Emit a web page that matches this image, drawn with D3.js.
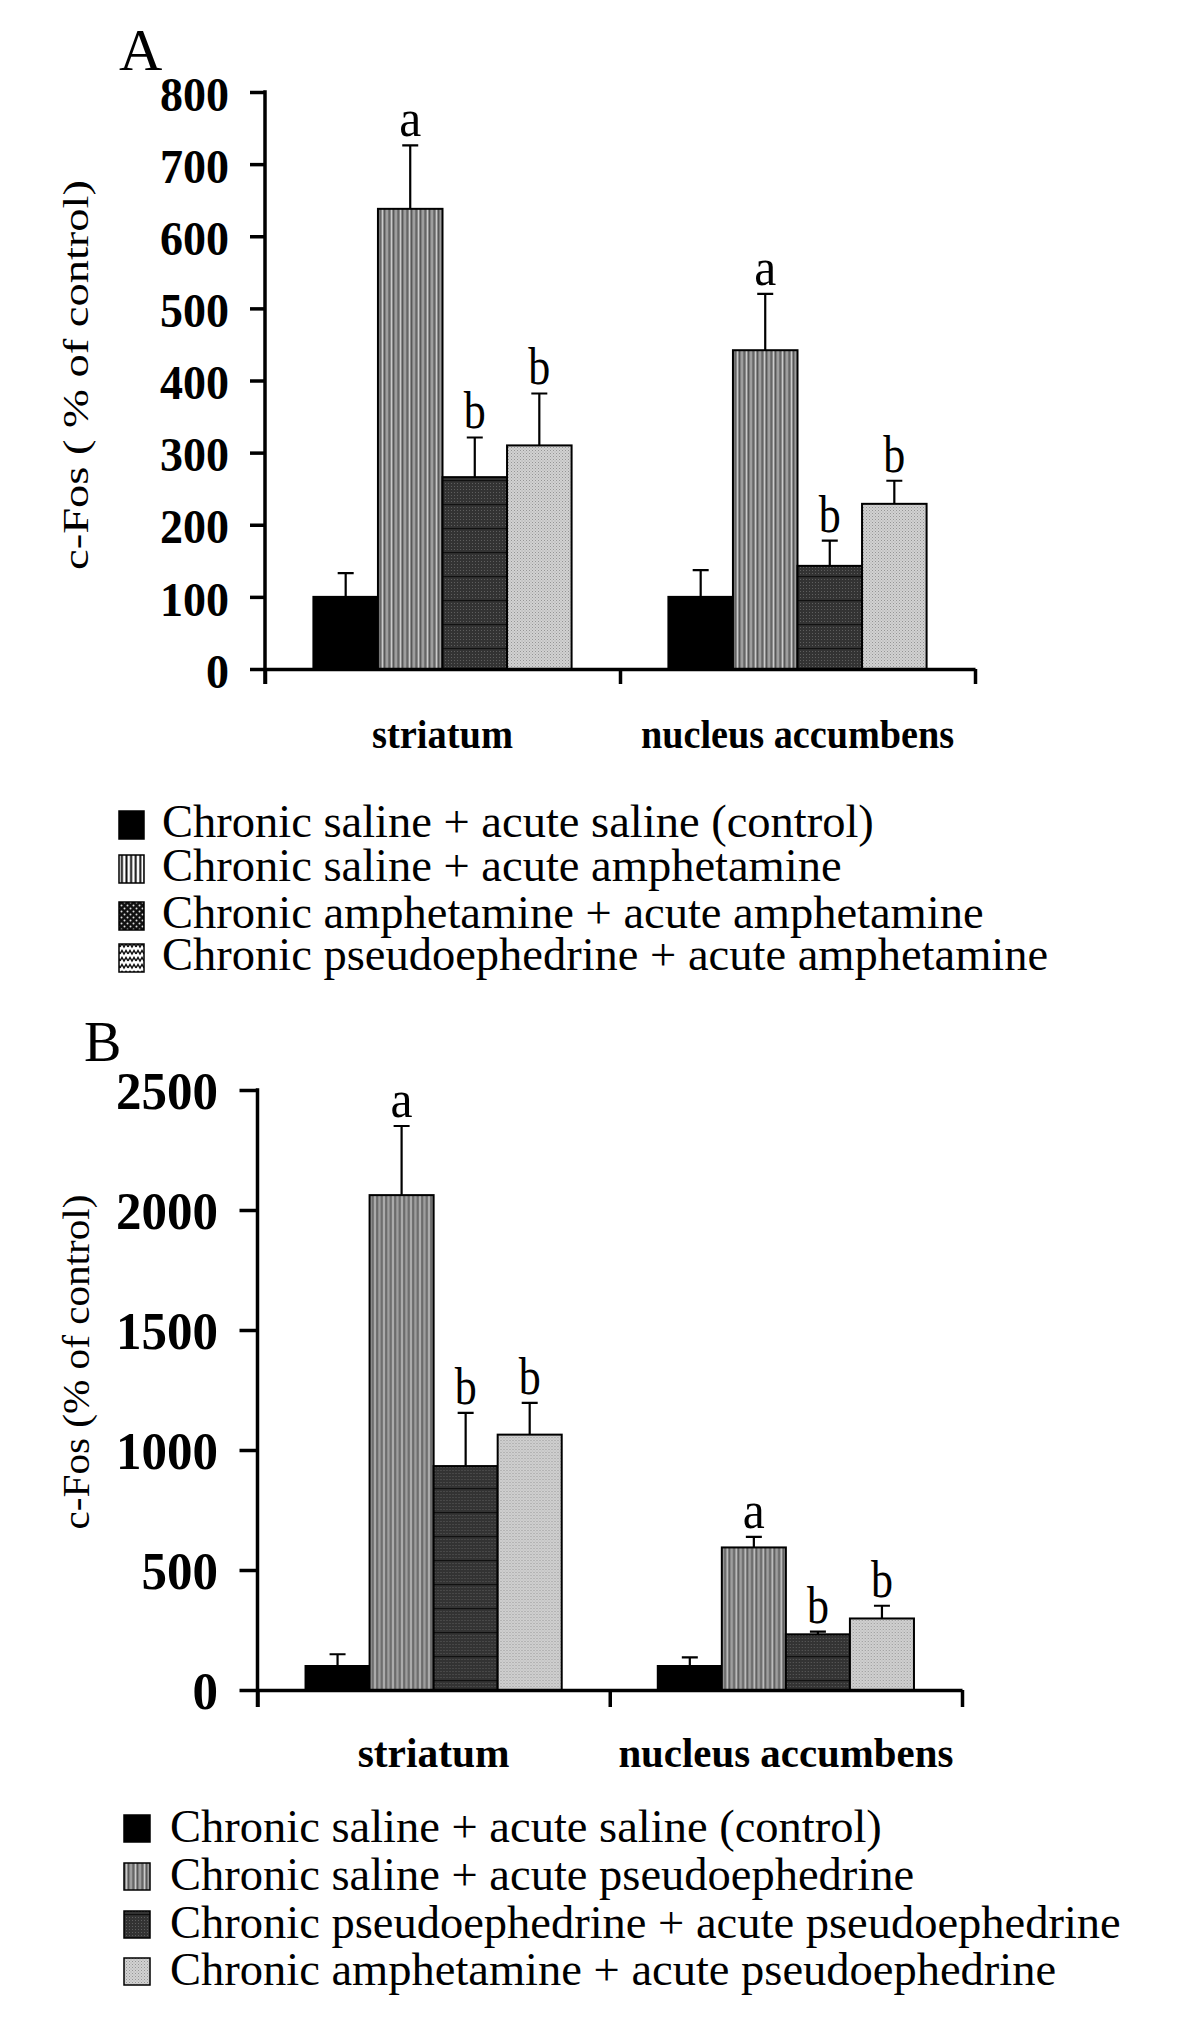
<!DOCTYPE html>
<html>
<head>
<meta charset="utf-8">
<script src="https://cdn.jsdelivr.net/npm/d3@7"></script>
<style>
  body { margin: 0; background: #fff; }
  svg { display: block; }
  text { font-family: "Liberation Serif", "Times New Roman", serif; fill: #000; }
</style>
</head>
<body>
<div id="chart"></div>
<script>
const width = 1200;
const height = 2038;

// data
const regions = ["striatum", "nucleus accumbens"];

const groupsA = [
    "Chronic saline + acute saline (control)",
    "Chronic saline + acute amphetamine",
    "Chronic amphetamine + acute amphetamine",
    "Chronic pseudoephedrine + acute amphetamine"
];
const meanA = [[100, 638, 266, 310], [100, 442, 143, 229]];
const semA = [[33, 88, 55, 72], [37, 78, 35, 32]];
const lettersA = [["", "a", "b", "b"], ["", "a", "b", "b"]];
const ticksA = [0, 100, 200, 300, 400, 500, 600, 700, 800];

const groupsB = [
    "Chronic saline + acute saline (control)",
    "Chronic saline + acute pseudoephedrine",
    "Chronic pseudoephedrine + acute pseudoephedrine",
    "Chronic amphetamine + acute pseudoephedrine"
];
const meanB = [[100, 2062, 933, 1064], [100, 594, 232, 298]];
const semB = [[49, 288, 222, 132], [36, 44, 11, 53]];
const lettersB = [["", "a", "b", "b"], ["", "a", "b", "b"]];
const ticksB = [0, 500, 1000, 1500, 2000, 2500];

const svg = d3.select("#chart")
    .append("svg")
    .attr("width", width)
    .attr("height", height);

svg.append("rect").attr("width", width).attr("height", height).attr("fill", "#fff");

const defs = svg.append("defs");

// bar fills
const pStripe = defs.append("pattern").attr("id", "stripe")
    .attr("patternUnits", "userSpaceOnUse").attr("width", 9).attr("height", 10);
pStripe.append("rect").attr("width", 9).attr("height", 10).attr("fill", "#8a8a8a");
[[0, "#cbcbcb", 1], [2, "#585858", 1.2], [4.5, "#b2b2b2", 1], [6.5, "#626262", 1.4]].forEach(d => {
    pStripe.append("rect").attr("x", d[0]).attr("width", d[2]).attr("height", 10).attr("fill", d[1]);
});

const pDark = defs.append("pattern").attr("id", "darkgrid")
    .attr("patternUnits", "userSpaceOnUse").attr("width", 3).attr("height", 24);
pDark.append("rect").attr("width", 3).attr("height", 24).attr("fill", "#333");
for (let j = 0; j < 24; j += 3) {
    pDark.append("rect").attr("x", 0).attr("y", j).attr("width", 1).attr("height", 1).attr("fill", "#5e5e5e");
}
pDark.append("rect").attr("width", 3).attr("height", 1.2).attr("fill", "#111");

const pLight = defs.append("pattern").attr("id", "lightdot")
    .attr("patternUnits", "userSpaceOnUse").attr("width", 3).attr("height", 3);
pLight.append("rect").attr("width", 3).attr("height", 3).attr("fill", "#d2d2d2");
pLight.append("rect").attr("width", 1).attr("height", 1).attr("fill", "#959595");
pLight.append("rect").attr("x", 1.5).attr("y", 1.5).attr("width", 1).attr("height", 1).attr("fill", "#a6a6a6");

// legend swatches of panel A
const pLegStripe = defs.append("pattern").attr("id", "legstripe")
    .attr("patternUnits", "userSpaceOnUse").attr("width", 4.6).attr("height", 10);
pLegStripe.append("rect").attr("width", 4.6).attr("height", 10).attr("fill", "#fff");
pLegStripe.append("rect").attr("x", 1.3).attr("width", 2).attr("height", 10).attr("fill", "#111");

const pLegDots = defs.append("pattern").attr("id", "legdots")
    .attr("patternUnits", "userSpaceOnUse").attr("width", 6).attr("height", 6);
pLegDots.append("rect").attr("width", 6).attr("height", 6).attr("fill", "#111");
pLegDots.append("circle").attr("cx", 1.5).attr("cy", 1.5).attr("r", 1).attr("fill", "#ddd");
pLegDots.append("circle").attr("cx", 4.5).attr("cy", 4.5).attr("r", 1).attr("fill", "#ddd");

const pLegZig = defs.append("pattern").attr("id", "legzig")
    .attr("patternUnits", "userSpaceOnUse").attr("width", 8).attr("height", 7);
pLegZig.append("rect").attr("width", 8).attr("height", 7).attr("fill", "#fff");
pLegZig.append("path").attr("d", "M0,5 L2,1.5 L4,5 L6,1.5 L8,5")
    .attr("fill", "none").attr("stroke", "#111").attr("stroke-width", 1.5);

const barFills = ["#000", "url(#stripe)", "url(#darkgrid)", "url(#lightdot)"];
const legFillsA = ["#000", "url(#legstripe)", "url(#legdots)", "url(#legzig)"];

function drawPanel(cfg) {
    const g = svg.append("g");

    const y = d3.scaleLinear().domain([0, cfg.ticks[cfg.ticks.length - 1]]).range([cfg.y0, cfg.yTop]);
    const x = d3.scaleBand().domain(regions).range([cfg.x0, cfg.x1]).padding(0);
    const xi = d3.scaleBand().domain(d3.range(4)).range([0, x.bandwidth()])
        .paddingInner(0).paddingOuter(0.75);
    const xb = d3.scaleLinear().domain([0, regions.length]).range([cfg.x0, cfg.x1]);

    // panel letter
    g.append("text").attr("x", cfg.letterX).attr("y", cfg.letterY)
        .attr("font-size", cfg.letterSize).text(cfg.letter);

    // bars
    regions.forEach((r, ri) => {
        const bg = g.append("g").attr("transform", `translate(${x(r)},0)`);
        const rows = d3.range(4).map(i => ({ i, m: cfg.mean[ri][i], s: cfg.sem[ri][i], l: cfg.letters[ri][i] }));

        bg.selectAll(".err").data(rows).enter().append("path")
            .attr("class", "err")
            .attr("d", d => {
                const cx = xi(d.i) + xi.bandwidth() / 2;
                return `M${cx},${y(d.m)}V${y(d.m + d.s)}M${cx - 8},${y(d.m + d.s)}H${cx + 8}`;
            })
            .attr("stroke", "#000").attr("stroke-width", 2.2).attr("fill", "none");

        bg.selectAll(".bar").data(rows).enter().append("rect")
            .attr("class", "bar")
            .attr("x", d => xi(d.i))
            .attr("y", d => y(d.m))
            .attr("width", xi.bandwidth())
            .attr("height", d => y(0) - y(d.m))
            .attr("fill", d => barFills[d.i])
            .attr("stroke", "#000").attr("stroke-width", 2);

        bg.selectAll(".sig").data(rows.filter(d => d.l)).enter().append("text")
            .attr("class", "sig")
            .attr("x", d => xi(d.i) + xi.bandwidth() / 2)
            .attr("y", d => y(d.m + d.s) - 9)
            .attr("text-anchor", "middle")
            .attr("font-size", 52)
            .attr("textLength", 22).attr("lengthAdjust", "spacingAndGlyphs")
            .text(d => d.l);
    });

    // y axis
    const yAxis = g.append("g").attr("transform", `translate(${cfg.x0},0)`)
        .call(d3.axisLeft(y).tickValues(cfg.ticks).tickFormat(d3.format("d"))
            .tickSize(cfg.tickLen).tickSizeOuter(0).tickPadding(cfg.tickPad));
    yAxis.select(".domain").remove();
    yAxis.selectAll("line").attr("stroke", "#000").attr("stroke-width", 3.5);
    yAxis.selectAll("text")
        .attr("font-family", "'Liberation Serif', 'Times New Roman', serif")
        .attr("font-size", cfg.tickFont).attr("font-weight", "bold")
        .attr("textLength", d => String(d).length * cfg.digitW).attr("lengthAdjust", "spacingAndGlyphs")
        .attr("dy", cfg.tickDy).attr("fill", "#000");
    g.append("line").attr("x1", cfg.x0).attr("x2", cfg.x0)
        .attr("y1", cfg.yTop - 1.75).attr("y2", cfg.y0 + cfg.xTickLen)
        .attr("stroke", "#000").attr("stroke-width", 3.5);

    // x axis, ticks at region boundaries
    const xAxis = g.append("g").attr("transform", `translate(0,${cfg.y0})`)
        .call(d3.axisBottom(xb).tickValues(d3.range(regions.length + 1)).tickSize(cfg.xTickLen)
            .tickSizeOuter(0).tickFormat(""));
    xAxis.select(".domain").attr("stroke", "#000").attr("stroke-width", 3.5);
    xAxis.selectAll("line").attr("stroke", "#000").attr("stroke-width", 3.5);

    g.selectAll(".cat").data(regions).enter().append("text")
        .attr("class", "cat")
        .attr("x", d => x(d) + x.bandwidth() / 2)
        .attr("y", cfg.catY)
        .attr("text-anchor", "middle")
        .attr("font-size", cfg.catFont).attr("font-weight", "bold")
        .attr("textLength", (d, i) => cfg.catLen[i]).attr("lengthAdjust", "spacingAndGlyphs")
        .text(d => d);

    // y label
    g.append("text")
        .attr("transform", `translate(${cfg.labX},${cfg.labY}) rotate(-90)`)
        .attr("text-anchor", "middle")
        .attr("font-size", cfg.labFont)
        .attr("textLength", cfg.labLen).attr("lengthAdjust", "spacingAndGlyphs")
        .text(cfg.ylabel);

    // legend
    const lg = g.selectAll(".leg").data(cfg.groups).enter().append("g").attr("class", "leg")
        .attr("transform", (d, i) => `translate(0,${cfg.legY[i]})`);
    lg.append("rect")
        .attr("x", cfg.legBoxX).attr("y", -cfg.legBoxH + cfg.legBoxOff)
        .attr("width", cfg.legBoxW).attr("height", cfg.legBoxH)
        .attr("fill", (d, i) => cfg.legFills[i])
        .attr("stroke", "#000").attr("stroke-width", 1.5);
    lg.append("text").attr("x", cfg.legTextX).attr("y", 0)
        .attr("font-size", 46.5).text(d => d);
}

drawPanel({
    letter: "A", letterX: 119, letterY: 70, letterSize: 60,
    mean: meanA, sem: semA, letters: lettersA, ticks: ticksA, groups: groupsA,
    x0: 265, x1: 975, y0: 669, yTop: 92,
    tickLen: 15, tickPad: 21, tickFont: 49, digitW: 23, tickDy: "0.37em", xTickLen: 15,
    catY: 748, catFont: 40, catLen: [141, 313],
    ylabel: "c-Fos ( % of control)", labX: 88, labY: 375, labFont: 36, labLen: 390,
    legY: [837, 881, 928, 970], legBoxX: 119, legBoxW: 25, legBoxH: 28, legBoxOff: 2, legTextX: 162,
    legFills: legFillsA
});

drawPanel({
    letter: "B", letterX: 84, letterY: 1061, letterSize: 56,
    mean: meanB, sem: semB, letters: lettersB, ticks: ticksB, groups: groupsB,
    x0: 257.5, x1: 962, y0: 1690, yTop: 1090,
    tickLen: 18, tickPad: 21.5, tickFont: 53, digitW: 25.5, tickDy: "0.34em", xTickLen: 17,
    catY: 1767, catFont: 43, catLen: [152, 335],
    ylabel: "c-Fos (% of control)", labX: 89, labY: 1362, labFont: 38, labLen: 335,
    legY: [1842, 1890, 1938, 1985], legBoxX: 124, legBoxW: 26, legBoxH: 27, legBoxOff: 0, legTextX: 170,
    legFills: barFills
});
</script>
</body>
</html>
